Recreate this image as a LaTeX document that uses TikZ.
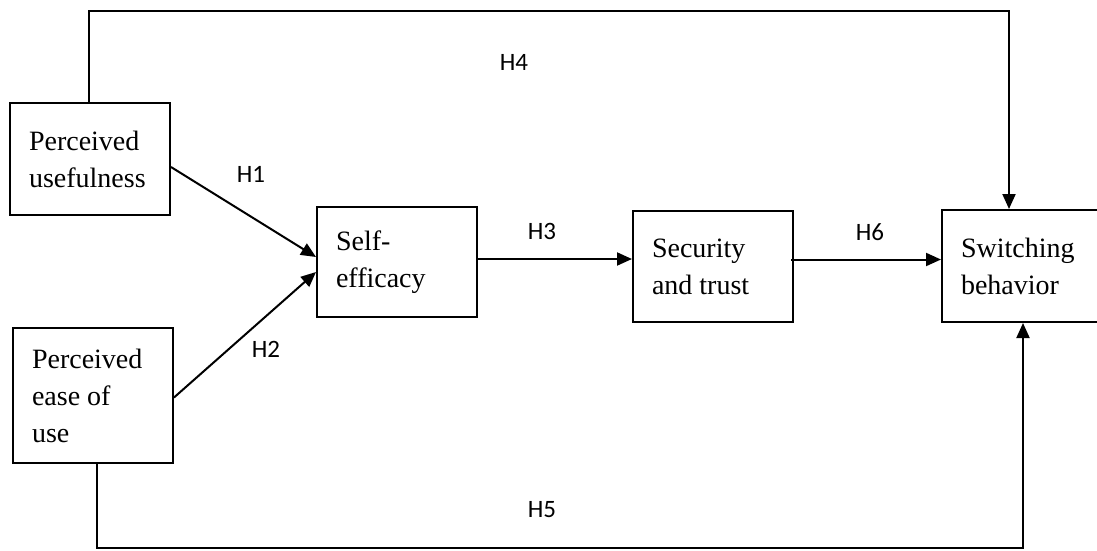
\documentclass[tikz,border=0pt]{standalone}
\usepackage{fontspec}
\setmainfont{Liberation Serif}
\newfontfamily\labelfont{Carlito}
\usetikzlibrary{arrows.meta}
\begin{document}
\begin{tikzpicture}[x=1pt,y=-1pt,
  box/.style={draw, line width=2pt, inner xsep=19pt, inner ysep=0pt, align=flush left,
    font=\fontsize{28}{37}\selectfont, minimum height=#1},
  box/.default=112pt,
  arr/.style={line width=2pt, -{Triangle[length=15pt,width=13pt]}},
  lbl/.style={font=\labelfont\fontsize{25}{28}\selectfont, inner sep=0pt}]
\useasboundingbox (0,0) rectangle (1097,550);
\node[box=112pt, text width=122pt] (pu) at (90,159) {Perceived\\usefulness};
\node[box=135pt, text width=122pt] (peu) at (93,395.5) {Perceived\\ease of\\use};
\node[box=110pt, text width=122pt] (se) at (397,262) {Self-\\efficacy};
\node[box=111pt, text width=122pt] (st) at (713,266.5) {Security\\and trust};
\node[box=112pt, text width=122pt] (sw) at (1022,266) {Switching\\behavior};
\coordinate (t1) at (89,11);
\coordinate (t2) at (1009,11);
\coordinate (b1) at (97,548);
\coordinate (b2) at (1023,548);
\draw[arr] ([yshift=-8pt]pu.east) -- ([yshift=5pt]se.west);
\draw[arr] ([yshift=-2pt]peu.east) -- ([yshift=-10pt]se.west);
\draw[arr] ([yshift=3pt]se.east) -- ([yshift=3pt]se.east -| st.west);
\draw[arr] ([yshift=7pt,xshift=-3pt]st.east) -- ([yshift=7pt]st.east -| sw.west);
\draw[arr] (pu.north -| t1) -- (t1) -- (t2) -- (t2 |- sw.north);
\draw[arr] (peu.south -| b1) -- (b1) -- (b2) -- (b2 |- sw.south);
\node[lbl] (h1) at (251,174) {H1};
\node[lbl] (h2) at (266,349) {H2};
\node[lbl] (h3) at (542,231) {H3};
\node[lbl] (h4) at (514,62) {H4};
\node[lbl] (h5) at (542,510) {H5};
\node[lbl] (h6) at (870,232) {H6};
\end{tikzpicture}
\end{document}
